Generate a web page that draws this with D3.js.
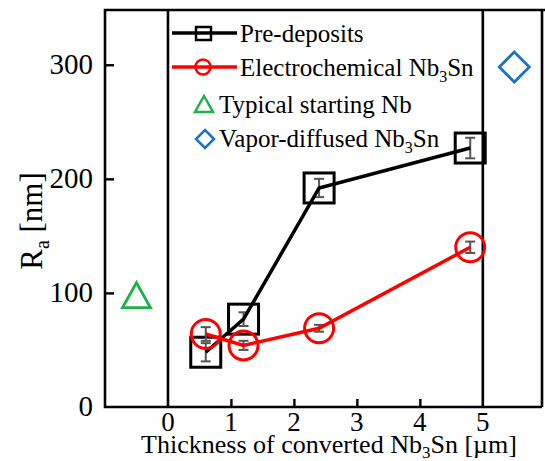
<!DOCTYPE html>
<html>
<meta charset="utf-8">
<body>
<script src="https://d3js.org/d3.v7.min.js"></script>
<script>
var width = 545,
    height = 461;

// data
var thickness = [0.6, 1.2, 2.4, 4.8];
var preDeposits = [48, 77, 192, 227];
var preErr = [8, 6, 8, 9];
var electroNb3Sn = [64, 54, 69, 140];
var electroErr = [6, 4, 3, 5];
var startingNb = { x: -0.5, y: 98 };
var vaporNb3Sn = { x: 5.5, y: 298 };
var xTicks = [0, 1, 2, 3, 4, 5];
var yTicks = [0, 100, 200, 300];

d3.select("body").style("margin", "0px");

var svg = d3.select("body").append("svg")
    .attr("width", width)
    .attr("height", height);

var x = d3.scaleLinear().domain([-1, 5.94]).range([105, 542]);
var y = d3.scaleLinear().domain([0, 348]).range([407, 10]);

// frame
var frame = svg.append("g").attr("stroke", "#000").attr("stroke-width", 2.6).attr("fill", "none");
frame.append("path")
    .attr("d", "M" + x.range()[1] + "," + y(0) + "H" + x.range()[0] + "V" + y.range()[1] + "H" + width);
frame.append("line")
    .attr("x1", x.range()[1]).attr("x2", x.range()[1])
    .attr("y1", y.range()[1]).attr("y2", y(0));
frame.selectAll(".vline")
    .data([0, 5])
    .enter().append("line")
    .attr("x1", function(d) { return x(d); }).attr("x2", function(d) { return x(d); })
    .attr("y1", y.range()[1]).attr("y2", y(0));

// inward ticks
var xAxis = d3.axisTop(x).tickValues([1, 2, 3, 4]).tickSize(8).tickFormat("");
svg.append("g").attr("transform", "translate(0," + y(0) + ")").call(xAxis)
    .call(function(g) { g.select(".domain").remove(); g.selectAll("line").attr("stroke-width", 2.4); });
var yAxis = d3.axisRight(y).tickValues([100, 200, 300]).tickSize(9).tickFormat("");
svg.append("g").attr("transform", "translate(" + x.range()[0] + ",0)").call(yAxis)
    .call(function(g) { g.select(".domain").remove(); g.selectAll("line").attr("stroke-width", 2.4); });

// tick labels
svg.selectAll(".xl")
    .data(xTicks)
    .enter().append("text")
    .attr("font-family", "Liberation Serif")
    .attr("font-size", 27)
    .attr("x", function(d) { return x(d); })
    .attr("y", 431)
    .attr("text-anchor", "middle")
    .text(function(d) { return d; });
svg.selectAll(".yl")
    .data(yTicks)
    .enter().append("text")
    .attr("font-family", "Liberation Serif")
    .attr("font-size", 29)
    .attr("x", 93)
    .attr("y", function(d) { return y(d) + 9; })
    .attr("text-anchor", "end")
    .text(function(d) { return d; });

// axis titles
var xt = svg.append("text")
    .attr("font-family", "Liberation Serif")
    .attr("font-size", 26)
    .attr("x", 329).attr("y", 453)
    .attr("text-anchor", "middle");
xt.append("tspan").text("Thickness of converted Nb");
xt.append("tspan").attr("dy", 5).attr("font-size", 17).text("3");
xt.append("tspan").attr("dy", -5).text("Sn [\u00b5m]");

var yt = svg.append("text")
    .attr("font-family", "Liberation Serif")
    .attr("font-size", 31)
    .attr("transform", "translate(42,221) rotate(-90)")
    .attr("text-anchor", "middle");
yt.append("tspan").text("R");
yt.append("tspan").attr("dy", 7).attr("font-size", 20).text("a");
yt.append("tspan").attr("dy", -7).text(" [nm]");

// series
var line = d3.line()
    .x(function(d) { return x(d[0]); })
    .y(function(d) { return y(d[1]); });

function errorBars(vals, errs) {
  var g = svg.append("g").attr("stroke", "#555").attr("stroke-width", 2);
  thickness.forEach(function(t, i) {
    var cx = x(t), y1 = y(vals[i] - errs[i]), y2 = y(vals[i] + errs[i]);
    g.append("line").attr("x1", cx).attr("x2", cx).attr("y1", y1).attr("y2", y2);
    g.append("line").attr("x1", cx - 5).attr("x2", cx + 5).attr("y1", y1).attr("y2", y1);
    g.append("line").attr("x1", cx - 5).attr("x2", cx + 5).attr("y1", y2).attr("y2", y2);
  });
}

errorBars(preDeposits, preErr);
svg.append("path")
    .datum(d3.zip(thickness, preDeposits))
    .attr("d", line)
    .attr("fill", "none").attr("stroke", "#000").attr("stroke-width", 3.5);
svg.selectAll(".sq")
    .data(d3.zip(thickness, preDeposits))
    .enter().append("rect")
    .attr("x", function(d) { return x(d[0]) - 15; })
    .attr("y", function(d) { return y(d[1]) - 15; })
    .attr("width", 30).attr("height", 30)
    .attr("fill", "none").attr("stroke", "#000").attr("stroke-width", 3);

errorBars(electroNb3Sn, electroErr);
svg.append("path")
    .datum(d3.zip(thickness, electroNb3Sn))
    .attr("d", line)
    .attr("fill", "none").attr("stroke", "#ff0000").attr("stroke-width", 3.5);
svg.selectAll(".ci")
    .data(d3.zip(thickness, electroNb3Sn))
    .enter().append("circle")
    .attr("cx", function(d) { return x(d[0]); })
    .attr("cy", function(d) { return y(d[1]); })
    .attr("r", 14.5)
    .attr("fill", "none").attr("stroke", "#ff0000").attr("stroke-width", 3);

function triangle(cx, cy, w, h) {
  return "M" + cx + "," + (cy - h / 2) + "L" + (cx + w / 2) + "," + (cy + h / 2) + "L" + (cx - w / 2) + "," + (cy + h / 2) + "Z";
}
function diamond(cx, cy, r) {
  return "M" + cx + "," + (cy - r) + "L" + (cx + r) + "," + cy + "L" + cx + "," + (cy + r) + "L" + (cx - r) + "," + cy + "Z";
}

svg.append("path")
    .attr("d", triangle(x(startingNb.x), y(startingNb.y), 28, 25))
    .attr("fill", "none").attr("stroke", "#1fb14a").attr("stroke-width", 2.8);
svg.append("path")
    .attr("d", diamond(x(vaporNb3Sn.x), y(vaporNb3Sn.y), 15))
    .attr("fill", "none").attr("stroke", "#1a72c8").attr("stroke-width", 2.8);

// legend
var lg = svg.append("g");
lg.append("line").attr("x1", 172).attr("x2", 237).attr("y1", 33).attr("y2", 33)
    .attr("stroke", "#000").attr("stroke-width", 3.5);
lg.append("rect").attr("x", 196).attr("y", 27).attr("width", 15).attr("height", 13)
    .attr("fill", "none").attr("stroke", "#000").attr("stroke-width", 2.5);
lg.append("line").attr("x1", 172).attr("x2", 237).attr("y1", 67).attr("y2", 67)
    .attr("stroke", "#ff0000").attr("stroke-width", 3.5);
lg.append("circle").attr("cx", 203).attr("cy", 67).attr("r", 7.5)
    .attr("fill", "none").attr("stroke", "#ff0000").attr("stroke-width", 2.5);
lg.append("path").attr("d", triangle(204, 104, 18, 16))
    .attr("fill", "none").attr("stroke", "#1fb14a").attr("stroke-width", 2.5);
lg.append("path").attr("d", diamond(205, 139, 9))
    .attr("fill", "none").attr("stroke", "#1a72c8").attr("stroke-width", 2.5);

function legendText(tx, ty, parts) {
  var t = lg.append("text")
      .attr("font-family", "Liberation Serif")
      .attr("font-size", 25)
      .attr("x", tx).attr("y", ty);
  parts.forEach(function(p) {
    if (p.sub) {
      t.append("tspan").attr("dy", 6).attr("font-size", 16).text(p.sub);
    } else {
      t.append("tspan").attr("dy", p.after ? -6 : 0).text(p.text);
    }
  });
}
legendText(240, 42, [{ text: "Pre-deposits" }]);
legendText(240, 76, [{ text: "Electrochemical Nb" }, { sub: "3" }, { text: "Sn", after: true }]);
legendText(219, 113, [{ text: "Typical starting Nb" }]);
legendText(219, 147, [{ text: "Vapor-diffused Nb" }, { sub: "3" }, { text: "Sn", after: true }]);
</script>
</body>
</html>
